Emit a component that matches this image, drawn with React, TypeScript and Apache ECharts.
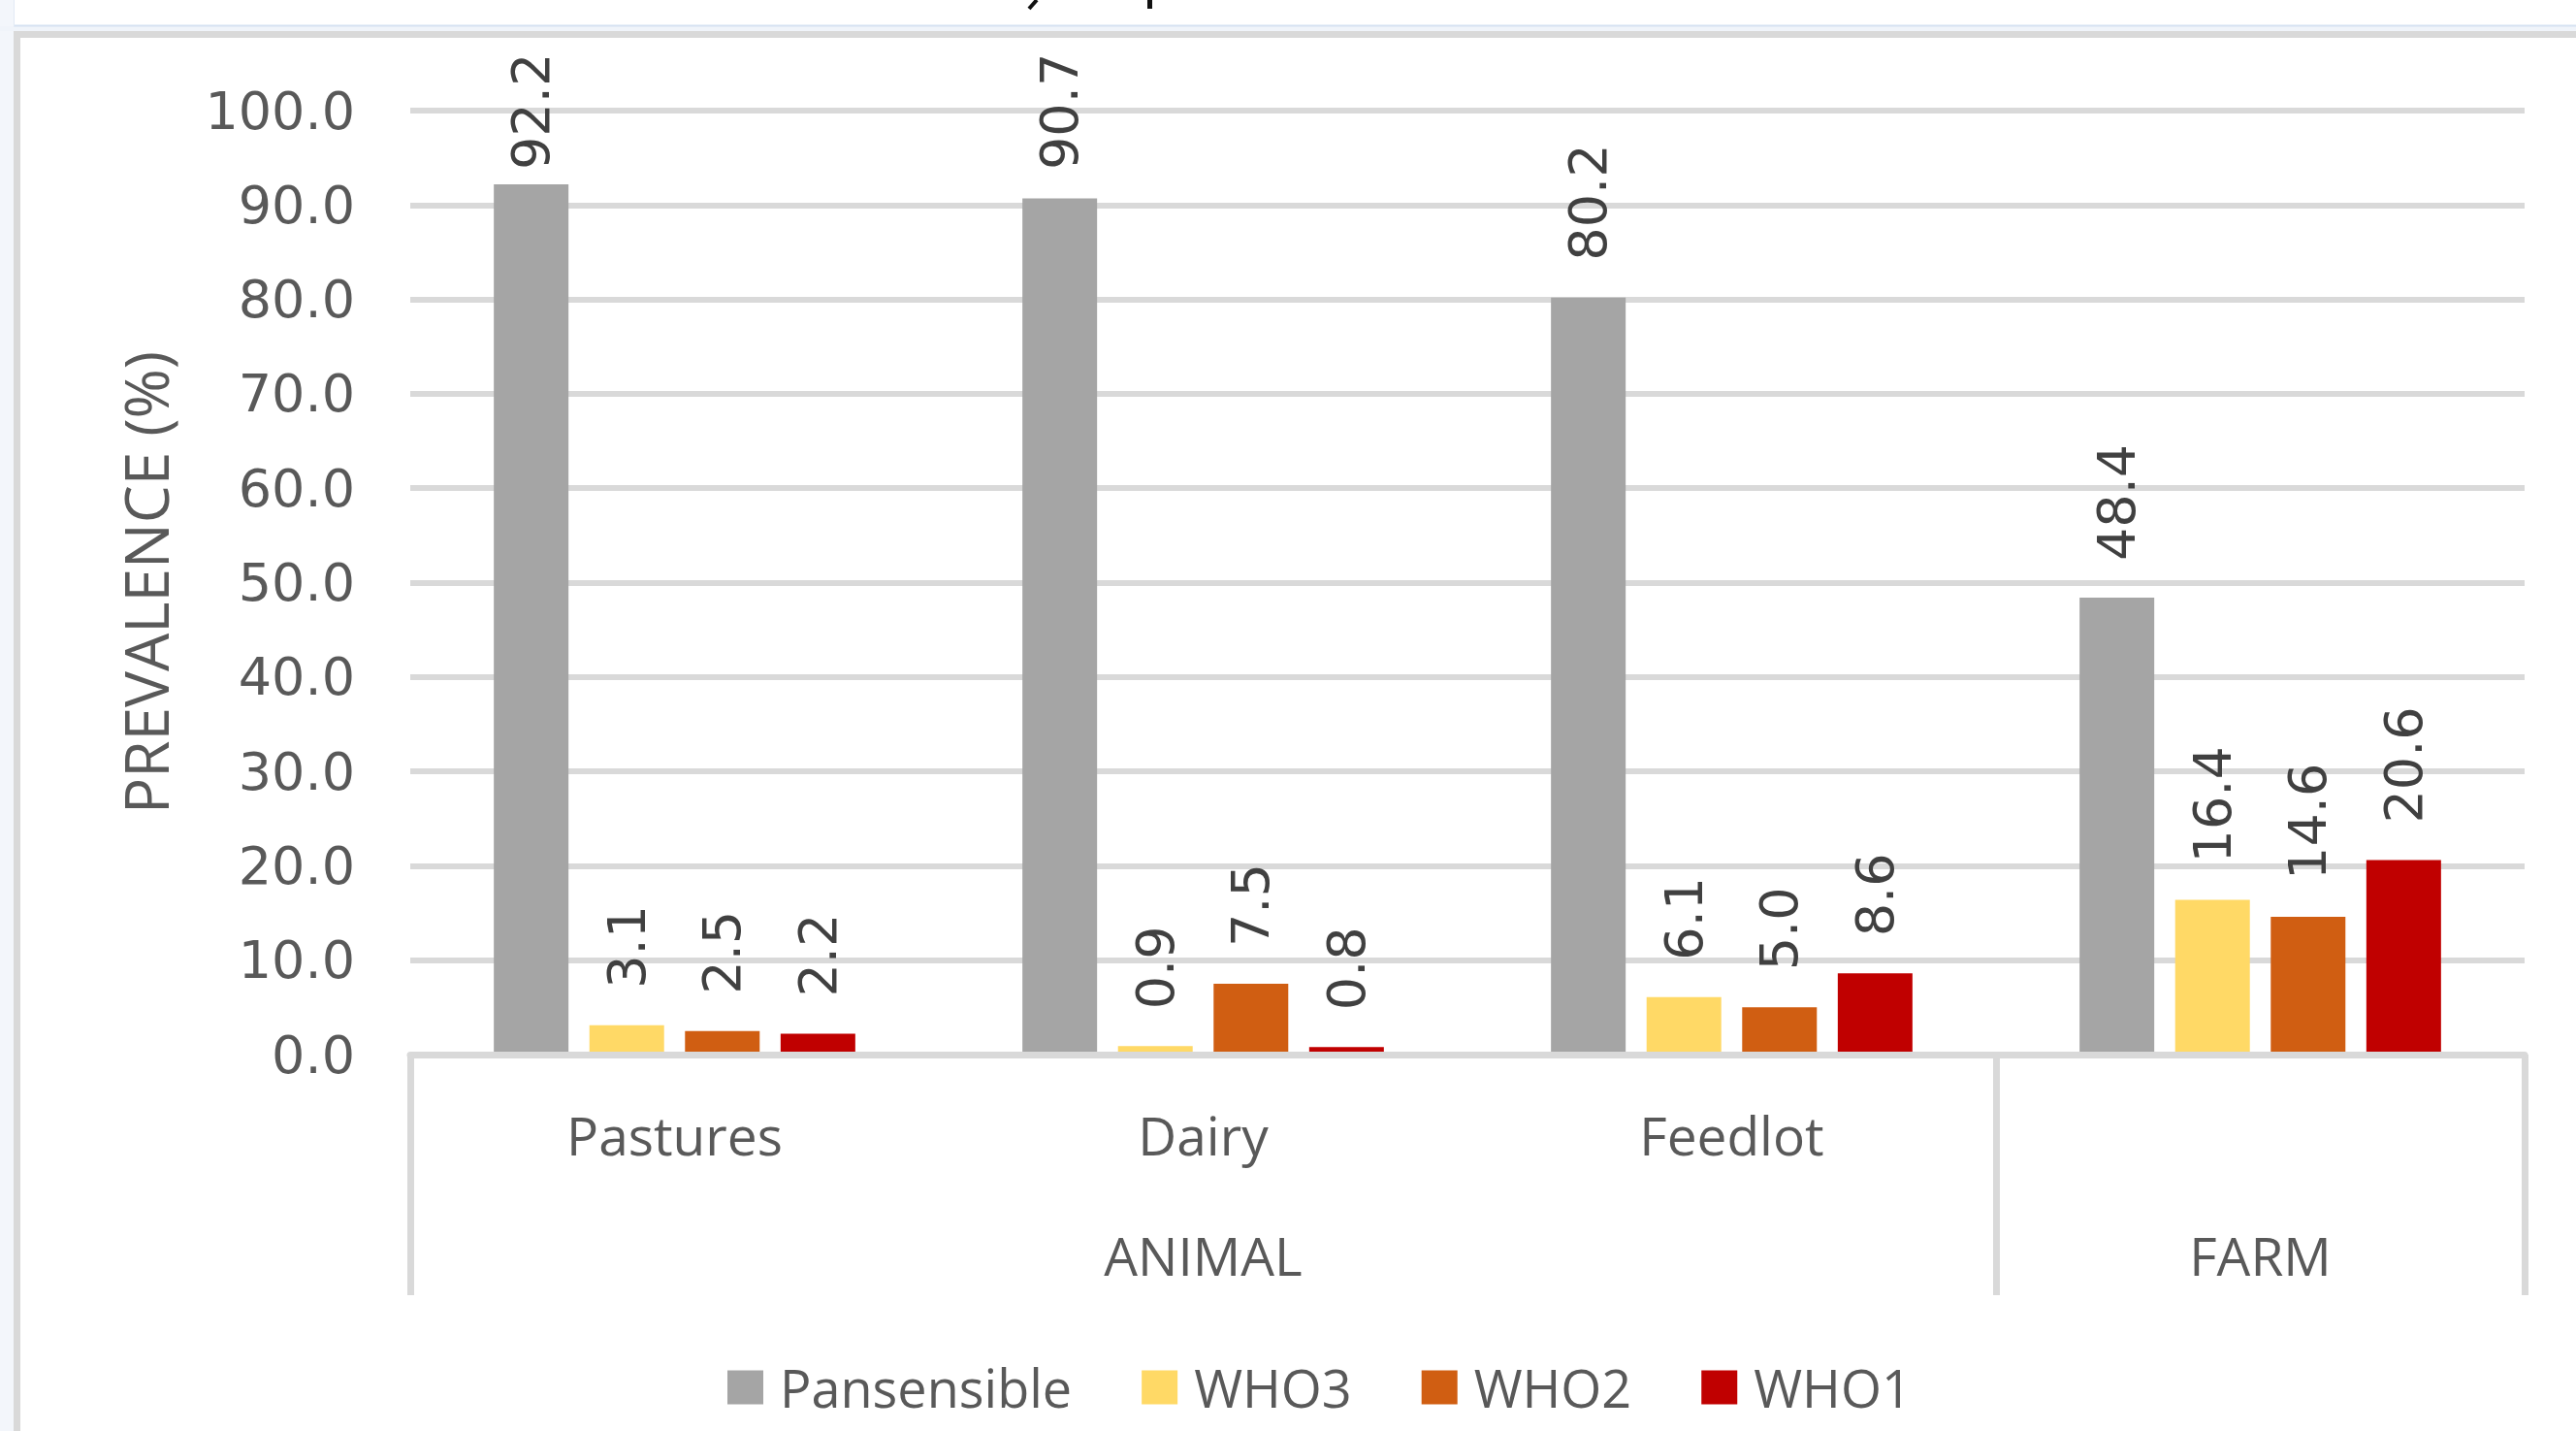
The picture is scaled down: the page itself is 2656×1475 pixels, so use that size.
import React, { useEffect, useRef } from 'react';
import * as echarts from 'echarts';

// ---- data ----
const categories = ['Pastures', 'Dairy', 'Feedlot', ''];
const groupLabels = ['', 'ANIMAL', '', 'FARM'];
const groupStartIndices = [0, 3];
const seriesNames = ['Pansensible', 'WHO3', 'WHO2', 'WHO1'];
const pansensible = [92.2, 90.7, 80.2, 48.4];
const who3 = [3.1, 0.9, 6.1, 16.4];
const who2 = [2.5, 7.5, 5.0, 14.6];
const who1 = [2.2, 0.8, 8.6, 20.6];
const yMin = 0;
const yMax = 100;
const yInterval = 10;
const yAxisTitle = 'PREVALENCE (%)';

const seriesValues = [pansensible, who3, who2, who1];
const colors = ['#A5A5A5', '#FFD966', '#D05E12', '#C00000'];

const W = 2656;
const H = 1475;
const GRID = { left: 423, right: 53, top: 114, bottom: 388 };
const NUM_FONT = 'DejaVu Sans';
const TXT_FONT = "'Open Sans', 'Noto Sans', sans-serif";
const TXT_COLOR = '#595959';
const LINE_COLOR = '#d9d9d9';

// keep rotated labels inside the plot top like the reference
const plotH = H - GRID.top - GRID.bottom;
const pxPerUnit = plotH / (yMax - yMin);
const labelLen = 116;
const labelTopLimit = 59;
function labelDistance(v: number) {
  const barTop = H - GRID.bottom - v * pxPerUnit;
  return Math.max(4, Math.min(38, barTop - labelTopLimit - labelLen));
}

export default function App() {
  const ref = useRef<HTMLDivElement>(null);
  useEffect(() => {
    if (!ref.current) return;
    const chart = echarts.init(ref.current, undefined, { renderer: 'svg' });
    const series = seriesNames.map((name, i) => ({
      name,
      type: 'bar',
      xAxisIndex: 0,
      yAxisIndex: 0,
      barWidth: 77,
      barGap: '28%',
      itemStyle: { color: colors[i] },
      data: seriesValues[i].map((v) => ({ value: v, label: { distance: labelDistance(v) } })),
      label: {
        show: true,
        position: 'top',
        rotate: 90,
        align: 'left',
        verticalAlign: 'middle',
        fontFamily: NUM_FONT,
        fontSize: 54,
        color: '#404040',
        formatter: (p: any) => Number(p.value).toFixed(1),
      },
    }));

    const option: any = {
      animation: false,
      backgroundColor: '#ffffff',
      graphic: [
        { type: 'rect', z: -10, shape: { x: 0, y: 0, width: 14, height: H }, style: { fill: '#f3f6fb' } },
        { type: 'rect', z: -10, shape: { x: 0, y: 27, width: W, height: 5 }, style: { fill: '#f0f4fa' } },
        { type: 'line', z: -9, shape: { x1: 14, y1: 26.5, x2: W, y2: 26.5 }, style: { stroke: '#d6e2f2', lineWidth: 2 } },
        { type: 'line', z: -9, shape: { x1: 14.5, y1: 0, x2: 14.5, y2: 27 }, style: { stroke: '#e2eaf5', lineWidth: 1 } },
        { type: 'rect', z: -9, shape: { x: 14, y: 32, width: W - 14, height: 7 }, style: { fill: '#d9d9d9' } },
        { type: 'rect', z: -9, shape: { x: 14, y: 32, width: 7, height: H - 32 }, style: { fill: '#d9d9d9' } },
        { type: 'line', z: -9, shape: { x1: 1069, y1: 0, x2: 1061, y2: 9 }, style: { stroke: '#111', lineWidth: 4 } },
        { type: 'line', z: -9, shape: { x1: 1185.5, y1: 0, x2: 1185.5, y2: 9 }, style: { stroke: '#111', lineWidth: 5 } },
      ],
      legend: {
        data: seriesNames,
        left: 750,
        top: 1400,
        padding: 0,
        icon: 'rect',
        itemWidth: 37,
        itemHeight: 35,
        itemGap: 72,
        textStyle: {
          fontFamily: TXT_FONT,
          fontSize: 54,
          color: TXT_COLOR,
          padding: [0, 0, 0, 12],
          lineHeight: 60,
        },
      },
      grid: [
        { ...GRID, containLabel: false, outerBoundsMode: 'none' },
        { ...GRID, containLabel: false, outerBoundsMode: 'none' },
      ],
      xAxis: [
        {
          type: 'category',
          gridIndex: 0,
          data: categories,
          z: 3,
          axisLine: { show: true, lineStyle: { color: LINE_COLOR, width: 7 } },
          axisTick: { show: false },
          axisLabel: {
            interval: 0,
            margin: 82,
            verticalAlign: 'middle',
            fontFamily: TXT_FONT,
            fontSize: 55,
            color: TXT_COLOR,
          },
        },
        {
          type: 'category',
          gridIndex: 1,
          data: groupLabels,
          position: 'bottom',
          axisLine: { show: false },
          axisTick: {
            show: true,
            length: 248,
            interval: (i: number) => groupStartIndices.includes(i),
            lineStyle: { color: LINE_COLOR, width: 7 },
          },
          axisLabel: {
            interval: 0,
            margin: 206,
            verticalAlign: 'middle',
            fontFamily: TXT_FONT,
            fontSize: 55,
            color: TXT_COLOR,
          },
          splitLine: { show: false },
        },
      ],
      yAxis: [
        {
          type: 'value',
          gridIndex: 0,
          min: yMin,
          max: yMax,
          interval: yInterval,
          name: yAxisTitle,
          nameLocation: 'middle',
          nameGap: 242,
          nameTextStyle: { fontFamily: TXT_FONT, fontSize: 62, color: TXT_COLOR },
          axisLine: { show: false },
          axisTick: { show: false },
          axisLabel: {
            margin: 57,
            fontFamily: NUM_FONT,
            fontSize: 54,
            color: TXT_COLOR,
            formatter: (v: number) => v.toFixed(1),
          },
          splitLine: { show: true, lineStyle: { color: LINE_COLOR, width: 6 } },
        },
        {
          type: 'value',
          gridIndex: 1,
          min: yMin,
          max: yMax,
          show: false,
          splitLine: { show: false },
        },
      ],
      series,
    };
    chart.setOption(option);
    return () => chart.dispose();
  }, []);
  return (
    <div
      ref={ref}
      style={{ position: 'fixed', left: 0, top: 0, width: W, height: H }}
    />
  );
}
